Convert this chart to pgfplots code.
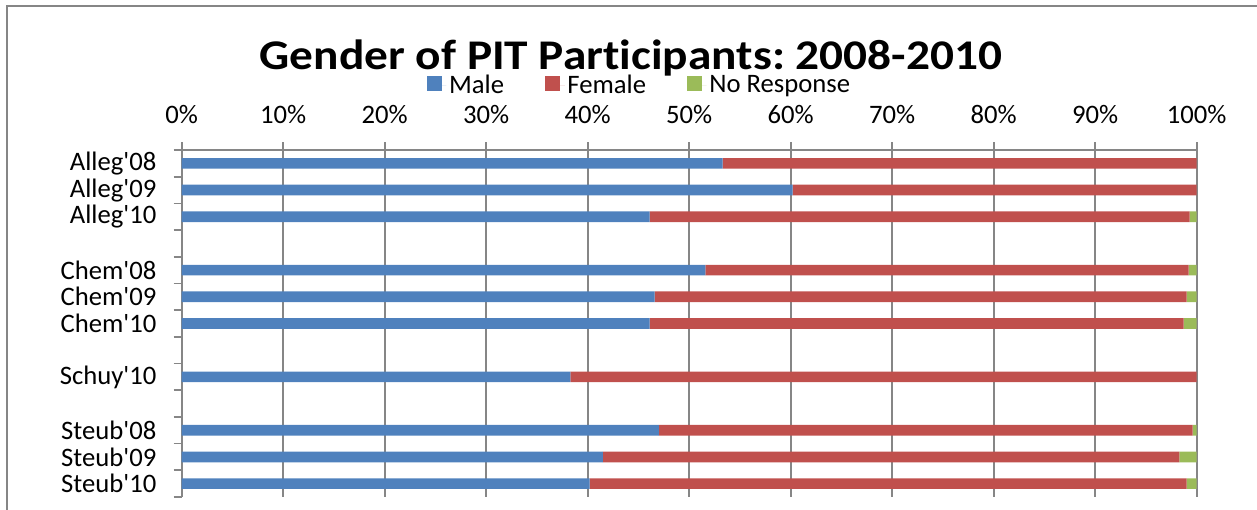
\documentclass[border=0pt]{standalone}
\usepackage{fontspec}
\setmainfont{Carlito}[Ligatures={TeXOff,NoCommon}]
\usepackage{pgfplots}
\usepackage{pgfplotstable}
\pgfplotsset{compat=1.18}
\definecolor{male}{RGB}{79,129,189}
\definecolor{female}{RGB}{192,80,77}
\definecolor{noresp}{RGB}{155,187,89}
\definecolor{gridgray}{RGB}{134,134,134}
\frenchspacing

% pos: row in the chart (gaps at 3, 7, 9)
\pgfplotstableread{
pos male female noresp
0  53.3 46.7 0.0
1  60.2 39.8 0.0
2  46.1 53.2 0.7
4  51.6 47.6 0.8
5  46.6 52.4 1.0
6  46.1 52.6 1.3
8  38.3 61.7 0.0
10 47.0 52.6 0.4
11 41.5 56.8 1.7
12 40.2 58.8 1.0
}\gender

\begin{document}
\begin{tikzpicture}[x=0.75pt,y=-0.75pt]
\useasboundingbox (0,0) rectangle (1257,510);
\draw[gridgray, line width=1.3pt] (7,512) -- (7,6) -- (1259,6);
\node[anchor=base, xscale=1.12, transform shape, inner sep=0pt,
  font=\bfseries\fontsize{31.7}{34}\selectfont] at (631,69.5)
  {Gender of PIT Participants: 2008-2010};
\coordinate (axtl) at (181.7,150);
\begin{axis}[
  at={(axtl)}, anchor=north west,
  scale only axis, width=761.25pt, height=260.25pt,
  xbar stacked, bar width=8pt,
  xmin=0, xmax=100, ymin=-0.5, ymax=12.5, y dir=reverse,
  axis x line*=top, axis y line*=left,
  axis line style={gridgray, line width=1.3pt},
  tick style={gridgray, line width=1.3pt},
  tick align=outside, major tick length=6pt,
  xtick={0,10,...,100},
  xticklabel={\pgfmathprintnumber{\tick}\%},
  /pgf/number format/assume math mode=true,
  xmajorgrids, grid style={gridgray, line width=1.3pt},
  ytick={-0.5,0.5,...,12.5}, yticklabels={},
  extra y ticks={0,1,2,4,5,6,8,10,11,12},
  extra y tick labels={Alleg'08,Alleg'09,Alleg'10,Chem'08,Chem'09,Chem'10,Schuy'10,Steub'08,Steub'09,Steub'10},
  extra y tick style={major tick length=0pt, yticklabel style={xshift=-15.5pt}},
  ticklabel style={font=\fontsize{20}{22}\selectfont, text=black},
  xticklabel style={yshift=10pt},
  legend style={at={(0.4515,1.187)}, anchor=center, draw=none, fill=none,
    legend columns=3, font=\fontsize{20}{22}\selectfont,
    /tikz/every even column/.append style={column sep=29pt}},
  legend image code/.code={\path (0pt,0pt) -- (14.5pt,0pt);
    \fill[#1] (0pt,-4.5pt) rectangle (11pt,6.5pt);},
]
\addplot[fill=male, draw=none] table[x=male, y=pos] {\gender};
\addplot[fill=female, draw=none] table[x=female, y=pos] {\gender};
\addplot[fill=noresp, draw=none] table[x=noresp, y=pos] {\gender};
\legend{Male, Female, No Response}
\end{axis}
\end{tikzpicture}
\end{document}
